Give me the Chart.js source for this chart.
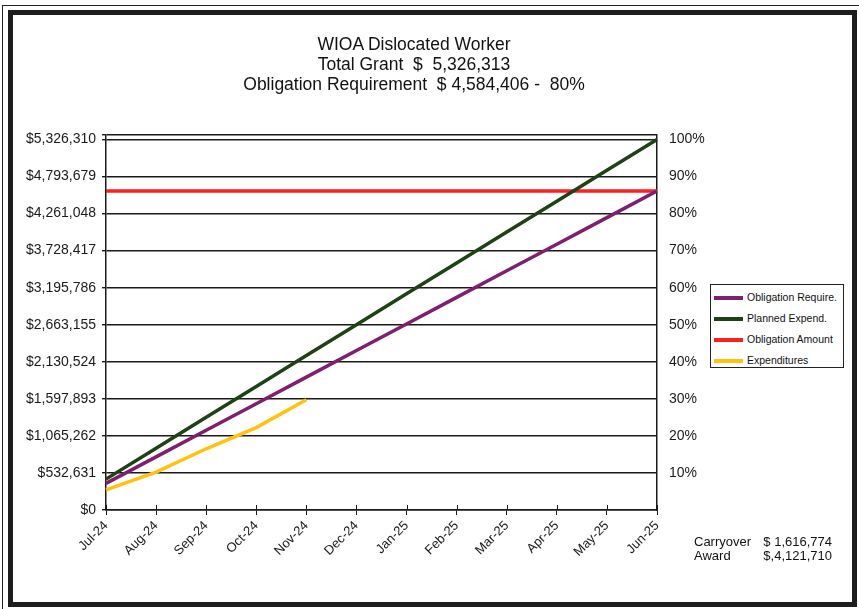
<!DOCTYPE html>
<html>
<head>
<meta charset="utf-8">
<script src="https://cdn.jsdelivr.net/npm/chart.js@4/dist/chart.umd.min.js"></script>
<style>
  body { margin: 0; background: #fff; overflow: hidden; }
  #wrap { position: relative; width: 859px; height: 609px; background: #fff; font-family: "Liberation Sans", Arial, sans-serif; color: #111; }
  #outer { position: absolute; left: 2px; top: 5px; width: 900px; height: 700px; border: 1px solid #222; }
  #frame { position: absolute; left: 8px; top: 10px; width: 849px; height: 597px; border: 5px solid #1e1e1e; box-sizing: border-box; }
  #chartBox { position: absolute; left: 0; top: 0; width: 859px; height: 609px; }
  #title { position: absolute; left: 0; top: 34px; width: 828px; text-align: center; font-size: 17.5px; line-height: 20px; white-space: pre; }
  #legend { position: absolute; left: 710px; top: 284px; width: 134px; height: 84px; border: 1px solid #222; box-sizing: border-box; padding-top: 2px; font-size: 10.5px; background: #fff; }
  #legend .row { height: 21px; line-height: 21px; white-space: nowrap; }
  #legend .swatch { display: inline-block; width: 29px; height: 4.5px; margin: 0 4px 0 3px; vertical-align: middle; }
  #note { position: absolute; left: 694px; top: 535px; font-size: 13px; line-height: 14px; }
  #note .k { display: inline-block; width: 68px; }
  #note .v { display: inline-block; width: 70px; text-align: right; }
</style>
</head>
<body>
<div id="wrap">
  <div id="outer"></div>
  <div id="frame"></div>
  <div id="chartBox"><canvas id="grantChart" width="859" height="609"></canvas></div>
  <div id="title"></div>
  <div id="legend"></div>
  <div id="note"></div>
</div>
<script>
// Months of the program year
var months = ['Jul-24', 'Aug-24', 'Sep-24', 'Oct-24', 'Nov-24', 'Dec-24',
              'Jan-25', 'Feb-25', 'Mar-25', 'Apr-25', 'May-25', 'Jun-25'];

// Cumulative dollars per month
var obligationRequire = [382034, 764068, 1146102, 1528135, 1910169, 2292203,
                         2674237, 3056271, 3438305, 3820338, 4202372, 4584406];
var plannedExpend = [443859, 887719, 1331578, 1775438, 2219297, 2663157,
                     3107016, 3550875, 3994735, 4438594, 4882454, 5326313];
var obligationAmount = [4584406, 4584406, 4584406, 4584406, 4584406, 4584406,
                        4584406, 4584406, 4584406, 4584406, 4584406, 4584406];
var expenditures = [290000, 545000, 880000, 1185000, 1585000, null,
                    null, null, null, null, null, null];

// Axis ticks
var dollarTicks = [0, 532631, 1065262, 1597893, 2130524, 2663155,
                   3195786, 3728417, 4261048, 4793679, 5326310];
var percentTicks = [10, 20, 30, 40, 50, 60, 70, 80, 90, 100];

var titleLines = ['WIOA Dislocated Worker',
                  'Total Grant  $  5,326,313',
                  'Obligation Requirement  $ 4,584,406 -  80%'];
var noteLines = [['Carryover', '$ 1,616,774'], ['Award', '$,4,121,710']];

var yTop = 5390000;
var fullGrant = 5326310;
var font = 'Liberation Sans, Arial, sans-serif';
var ink = '#1a1a1a';

document.getElementById('title').textContent = titleLines.join('\n');
document.getElementById('note').innerHTML = noteLines.map(function (l) {
  return '<div><span class="k">' + l[0] + '</span><span class="v">' + l[1] + '</span></div>';
}).join('');

function line(label, data, color) {
  return {
    label: label,
    data: data,
    borderColor: color,
    backgroundColor: color,
    borderWidth: 3.5,
    pointRadius: 0,
    tension: 0,
    fill: false,
    yAxisID: 'y'
  };
}

// month ticks cross the axis line, so draw the part above it too
var crossTicks = {
  id: 'crossTicks',
  afterDraw: function (chart) {
    var x = chart.scales.x, c = chart.ctx;
    c.save();
    c.strokeStyle = ink;
    c.lineWidth = 1;
    for (var i = 0; i < x.ticks.length; i++) {
      var px = Math.round(x.getPixelForTick(i)) + 0.5;
      c.beginPath();
      c.moveTo(px, x.top - 5);
      c.lineTo(px, x.top);
      c.stroke();
    }
    c.restore();
  }
};

var ctx = document.getElementById('grantChart');
var grantChart = new Chart(ctx, {
  type: 'line',
  data: {
    labels: months,
    datasets: [
      line('Obligation Require.', obligationRequire, '#7e1f6f'),
      line('Planned Expend.', plannedExpend, '#1d4314'),
      line('Obligation Amount', obligationAmount, '#ff1f1f'),
      line('Expenditures', expenditures, '#ffc20e')
    ]
  },
  plugins: [crossTicks],
  options: {
    responsive: false,
    animation: false,
    layout: { padding: { left: 16, right: 142, top: 135, bottom: 49 } },
    plugins: {
      legend: { display: false },
      tooltip: { enabled: false }
    },
    scales: {
      x: {
        offset: false,
        grid: { drawOnChartArea: false, color: ink, tickLength: 5, lineWidth: 1 },
        border: { color: ink, width: 1.5 },
        ticks: { color: ink, font: { family: font, size: 13 }, maxRotation: 45, minRotation: 45, padding: 3, autoSkip: false },
        afterFit: function (s) { s.height = 50; }
      },
      y: {
        position: 'left',
        min: 0,
        max: yTop,
        afterBuildTicks: function (s) {
          s.ticks = dollarTicks.concat([yTop]).map(function (v) { return { value: v }; });
        },
        grid: { color: ink, lineWidth: 1.4, tickLength: 4 },
        border: { color: ink, width: 1.5 },
        ticks: {
          color: ink, padding: 6, font: { family: font, size: 14 },
          callback: function (v) { return v === yTop ? '' : '$' + v.toLocaleString('en-US'); }
        },
        afterFit: function (s) { s.width = 90; }
      },
      y2: {
        position: 'right',
        min: 0,
        max: yTop / fullGrant * 100,
        afterBuildTicks: function (s) {
          s.ticks = percentTicks.map(function (v) { return { value: v }; });
        },
        grid: { display: false, drawOnChartArea: false },
        border: { color: ink, width: 1.5 },
        ticks: {
          color: ink, padding: 4, font: { family: font, size: 14 },
          callback: function (v) { return v + '%'; }
        },
        afterFit: function (s) { s.width = 60; }
      }
    }
  }
});

// Boxed legend built from the chart's datasets
document.getElementById('legend').innerHTML = grantChart.data.datasets.map(function (d) {
  return '<div class="row"><span class="swatch" style="background:' + d.borderColor + '"></span>' + d.label + '</div>';
}).join('');
</script>
</body>
</html>
